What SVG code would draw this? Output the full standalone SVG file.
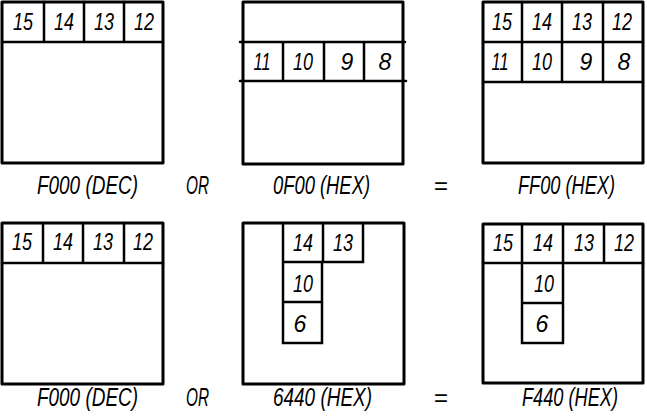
<svg xmlns="http://www.w3.org/2000/svg" width="647" height="418" viewBox="0 0 647 418">
<style>
.box{fill:none;stroke:#000;stroke-width:3;stroke-linejoin:round;stroke-linecap:round}
.ln{fill:none;stroke:#000;stroke-width:2.5;stroke-linecap:round}
.n{font-family:"Liberation Sans",Arial,sans-serif;font-style:italic;font-size:23px;text-anchor:middle;fill:#000}
.l{font-family:"Liberation Sans",Arial,sans-serif;font-style:italic;font-size:25px;fill:#000}
.eq{font-family:"Liberation Sans",Arial,sans-serif;font-size:24px;text-anchor:middle;fill:#000}
</style>
<rect width="647" height="418" fill="#fff"/>

<g id="panel-top-left">
<path class="box" d="M2,2 L163,2 L163,163 L2,163 Z"/>
<path class="ln" d="M2,42 L163,42 M44,2 L44,42 M84,2 L84,42 M124,2 L124,42"/>
<text class="n" x="23" y="30" textLength="20" lengthAdjust="spacingAndGlyphs">15</text>
<text class="n" x="64" y="30" textLength="20" lengthAdjust="spacingAndGlyphs">14</text>
<text class="n" x="104" y="30" textLength="20" lengthAdjust="spacingAndGlyphs">13</text>
<text class="n" x="144" y="30" textLength="20" lengthAdjust="spacingAndGlyphs">12</text>
</g>

<g id="panel-top-middle">
<path class="box" d="M243,2 L403,2 L403,164 L243,164 Z"/>
<path class="ln" d="M240,42 L405,42 M240,81 L406,81 M283,42 L283,81 M324,42 L324,81 M364,42 L364,81"/>
<text class="n" x="262" y="70" textLength="17" lengthAdjust="spacingAndGlyphs">11</text>
<text class="n" x="303" y="70" textLength="20" lengthAdjust="spacingAndGlyphs">10</text>
<text class="n" x="347" y="70">9</text>
<text class="n" x="385" y="70">8</text>
</g>

<g id="panel-top-right">
<path class="box" d="M483,2 L643,2 L643,163 L483,163 Z"/>
<path class="ln" d="M483,42 L643,42 M483,82 L643,82 M522,2 L522,82 M562,2 L562,82 M603,2 L603,82"/>
<text class="n" x="502" y="30" textLength="20" lengthAdjust="spacingAndGlyphs">15</text>
<text class="n" x="542" y="30" textLength="20" lengthAdjust="spacingAndGlyphs">14</text>
<text class="n" x="582" y="30" textLength="20" lengthAdjust="spacingAndGlyphs">13</text>
<text class="n" x="622" y="30" textLength="20" lengthAdjust="spacingAndGlyphs">12</text>
<text class="n" x="500" y="70" textLength="17" lengthAdjust="spacingAndGlyphs">11</text>
<text class="n" x="542" y="70" textLength="20" lengthAdjust="spacingAndGlyphs">10</text>
<text class="n" x="586" y="70">9</text>
<text class="n" x="624" y="70">8</text>
</g>

<g id="panel-bottom-left">
<path class="box" d="M2,223 L163,223 L163,384 L2,384 Z"/>
<path class="ln" d="M2,263 L163,263 M43,223 L43,263 M83,223 L83,263 M124,223 L124,263"/>
<text class="n" x="22" y="250" textLength="20" lengthAdjust="spacingAndGlyphs">15</text>
<text class="n" x="63" y="250" textLength="20" lengthAdjust="spacingAndGlyphs">14</text>
<text class="n" x="103" y="250" textLength="20" lengthAdjust="spacingAndGlyphs">13</text>
<text class="n" x="143" y="250" textLength="20" lengthAdjust="spacingAndGlyphs">12</text>
</g>

<g id="panel-bottom-middle">
<path class="box" d="M243,223 L404,223 L404,384 L243,384 Z"/>
<path class="ln" d="M283,223 L283,343 L322,343 L322,262 M323,223 L323,262 M363,223 L363,262 L283,262 M283,302 L322,302"/>
<text class="n" x="303" y="251" textLength="20" lengthAdjust="spacingAndGlyphs">14</text>
<text class="n" x="343" y="251" textLength="20" lengthAdjust="spacingAndGlyphs">13</text>
<text class="n" x="303" y="292" textLength="20" lengthAdjust="spacingAndGlyphs">10</text>
<text class="n" x="300" y="332">6</text>
</g>

<g id="panel-bottom-right">
<path class="box" d="M483,224 L643,224 L643,383 L483,383 Z"/>
<path class="ln" d="M483,263 L643,263 M522,224 L522,343 L563,343 L563,224 M604,224 L604,263 M522,303 L563,303"/>
<text class="n" x="503" y="251" textLength="20" lengthAdjust="spacingAndGlyphs">15</text>
<text class="n" x="543" y="251" textLength="20" lengthAdjust="spacingAndGlyphs">14</text>
<text class="n" x="584" y="251" textLength="20" lengthAdjust="spacingAndGlyphs">13</text>
<text class="n" x="624" y="251" textLength="20" lengthAdjust="spacingAndGlyphs">12</text>
<text class="n" x="544" y="292" textLength="20" lengthAdjust="spacingAndGlyphs">10</text>
<text class="n" x="542" y="332">6</text>
</g>

<g id="labels">
<text class="l" x="37" y="194" textLength="101" lengthAdjust="spacingAndGlyphs">F000 (DEC)</text>
<text class="l" x="186" y="194" textLength="23" lengthAdjust="spacingAndGlyphs">OR</text>
<text class="l" x="273" y="194" textLength="97" lengthAdjust="spacingAndGlyphs">0F00 (HEX)</text>
<text class="eq" x="441" y="194">=</text>
<text class="l" x="518" y="194" textLength="97" lengthAdjust="spacingAndGlyphs">FF00 (HEX)</text>
<text class="l" x="37" y="406" textLength="101" lengthAdjust="spacingAndGlyphs">F000 (DEC)</text>
<text class="l" x="186" y="406" textLength="23" lengthAdjust="spacingAndGlyphs">OR</text>
<text class="l" x="273" y="406" textLength="99" lengthAdjust="spacingAndGlyphs">6440 (HEX)</text>
<text class="eq" x="441" y="406">=</text>
<text class="l" x="522" y="406" textLength="96" lengthAdjust="spacingAndGlyphs">F440 (HEX)</text>
</g>
</svg>
